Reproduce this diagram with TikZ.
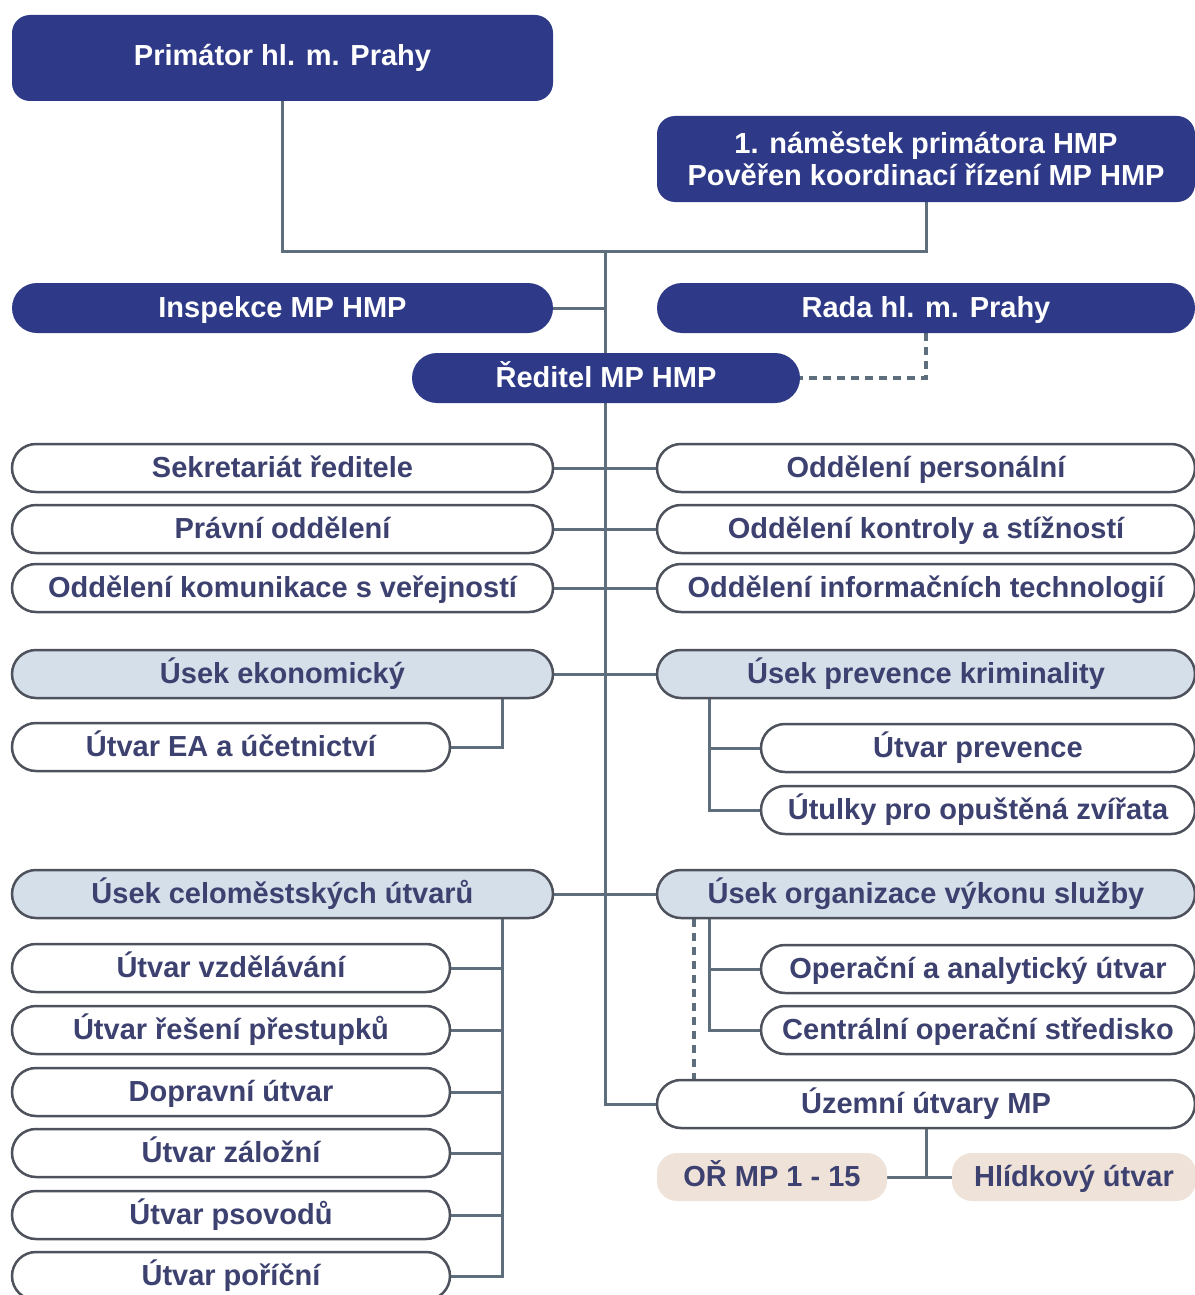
\documentclass[tikz,border=0pt]{standalone}
\usepackage{fontspec}
\setmainfont{Liberation Sans}
\usetikzlibrary{calc}
\usetikzlibrary{positioning}
\usetikzlibrary{backgrounds}

\definecolor{navy}{HTML}{2E3A87}
\definecolor{inktext}{HTML}{3D4170}
\definecolor{wirecol}{HTML}{5E6E7C}
\definecolor{paleblue}{HTML}{D5DFE9}
\definecolor{palesand}{HTML}{EFE2D8}
\definecolor{rim}{HTML}{4E525C}

\begin{document}
\begin{tikzpicture}[%
  x=1pt, y=-1pt,
  boxfont/.style={font=\bfseries\fontsize{29}{32}\selectfont},
  oneline/.style={text height=21pt, text depth=2pt},
  head/.style={boxfont, fill=navy, text=white, rounded corners=18pt,
    minimum height=86pt, inner sep=0pt, align=center},
  chief/.style={boxfont, oneline, fill=navy, text=white, rounded corners=25pt,
    minimum height=50pt, inner sep=0pt},
  unit/.style={boxfont, oneline, draw=rim, line width=2.5pt, fill=white,
    text=inktext, rounded corners=24pt, minimum height=48pt, inner sep=0pt},
  section/.style={unit, fill=paleblue},
  district/.style={boxfont, oneline, fill=palesand, text=inktext,
    rounded corners=20pt, minimum height=48pt, inner sep=0pt},
  link/.style={draw=wirecol, line width=3pt},
  % dashed links
  dlink/.style={link, line width=3.5pt, dash pattern=on 8pt off 6pt},
]

  \useasboundingbox (0,0) rectangle (1194,1295);

  % top level
  \node[head, minimum width=541pt] (prim) at (282.5,58) {Primátor hl. m. Prahy};
  \node[head, minimum width=538pt] (nam) at (926,159)
    {1. náměstek primátora HMP\\Pověřen koordinací řízení MP HMP};

  \node[chief, minimum width=541pt] (insp) at (282.5,308) {Inspekce MP HMP};
  \node[chief, minimum width=538pt] (rada) at (926,308) {Rada hl. m. Prahy};
  \node[chief, minimum width=388pt] (red) at (606,378) {Ředitel MP HMP};

  % departments
  \node[unit, minimum width=541pt] (sek) at (282.5,468) {Sekretariát ředitele};
  \node[unit, minimum width=541pt] (prav) at (282.5,529) {Právní oddělení};
  \node[unit, minimum width=541pt] (kom) at (282.5,588) {Oddělení komunikace s veřejností};
  \node[unit, minimum width=538pt] (pers) at (926,468) {Oddělení personální};
  \node[unit, minimum width=538pt] (kontr) at (926,529) {Oddělení kontroly a stížností};
  \node[unit, minimum width=538pt] (it) at (926,588) {Oddělení informačních technologií};

  % sections
  \node[section, minimum width=541pt] (ekon) at (282.5,674) {Úsek ekonomický};
  \node[section, minimum width=538pt] (prev) at (926,674) {Úsek prevence kriminality};
  \node[unit, minimum width=438pt] (ea) at (231,747) {Útvar EA a účetnictví};
  \node[unit, minimum width=434pt] (utvprev) at (978,748) {Útvar prevence};
  \node[unit, minimum width=434pt] (utulky) at (978,810) {Útulky pro opuštěná zvířata};

  \node[section, minimum width=541pt] (celo) at (282.5,894) {Úsek celoměstských útvarů};
  \node[section, minimum width=538pt] (org) at (926,894) {Úsek organizace výkonu služby};
  \node[unit, minimum width=438pt] (vzd) at (231,968) {Útvar vzdělávání};
  \node[unit, minimum width=438pt] (pres) at (231,1030) {Útvar řešení přestupků};
  \node[unit, minimum width=438pt] (dopr) at (231,1092) {Dopravní útvar};
  \node[unit, minimum width=438pt] (zal) at (231,1153) {Útvar záložní};
  \node[unit, minimum width=438pt] (psov) at (231,1215) {Útvar psovodů};
  \node[unit, minimum width=438pt] (pori) at (231,1276) {Útvar poříční};
  \node[unit, minimum width=434pt] (oper) at (978,969) {Operační a analytický útvar};
  \node[unit, minimum width=434pt] (centr) at (978,1030) {Centrální operační středisko};

  \node[unit, minimum width=538pt] (uzem) at (926,1104) {Územní útvary MP};
  \node[district, minimum width=230pt] (or) at (772,1177) {OŘ MP 1 - 15};
  \node[district, minimum width=244pt] (hlid) at (1074,1177) {Hlídkový útvar};

  % bus lines
  \coordinate (top) at (605,251);
  \coordinate (lbus) at (502,0);
  \coordinate (rbus) at (709,0);
  \coordinate (rdash) at (694,0);

  \begin{scope}[on background layer]
  \draw[link] (prim.south) |- (top) -| (nam.south);
  \draw[link] (top) |- (uzem.west);
  \draw[link] (insp.east) -- (insp.east -| top);
  \draw[dlink] (rada.south) |- (red.east);

  \draw[link] (sek.east) -- (pers.west);
  \draw[link] (prav.east) -- (kontr.west);
  \draw[link] (kom.east) -- (it.west);
  \draw[link] (ekon.east) -- (prev.west);
  \draw[link] (celo.east) -- (org.west);

  \draw[link] (ekon.south -| lbus) |- (ea.east);
  \draw[link] (prev.south -| rbus) |- (utulky.west);
  \draw[link] (utvprev.west) -- (utvprev.west -| rbus);

  \draw[link] (celo.south -| lbus) |- (pori.east);
  \foreach \n in {vzd,pres,dopr,zal,psov}
    \draw[link] (\n.east) -- (\n.east -| lbus);

  \draw[link] (org.south -| rbus) |- (centr.west);
  \draw[link] (oper.west) -- (oper.west -| rbus);
  \draw[dlink] (org.south -| rdash) -- (uzem.north -| rdash);

  \draw[link] (uzem.south) -- (uzem.south |- or.east);
  \draw[link] (or.east) -- (hlid.west);
  \end{scope}

\end{tikzpicture}
\end{document}
